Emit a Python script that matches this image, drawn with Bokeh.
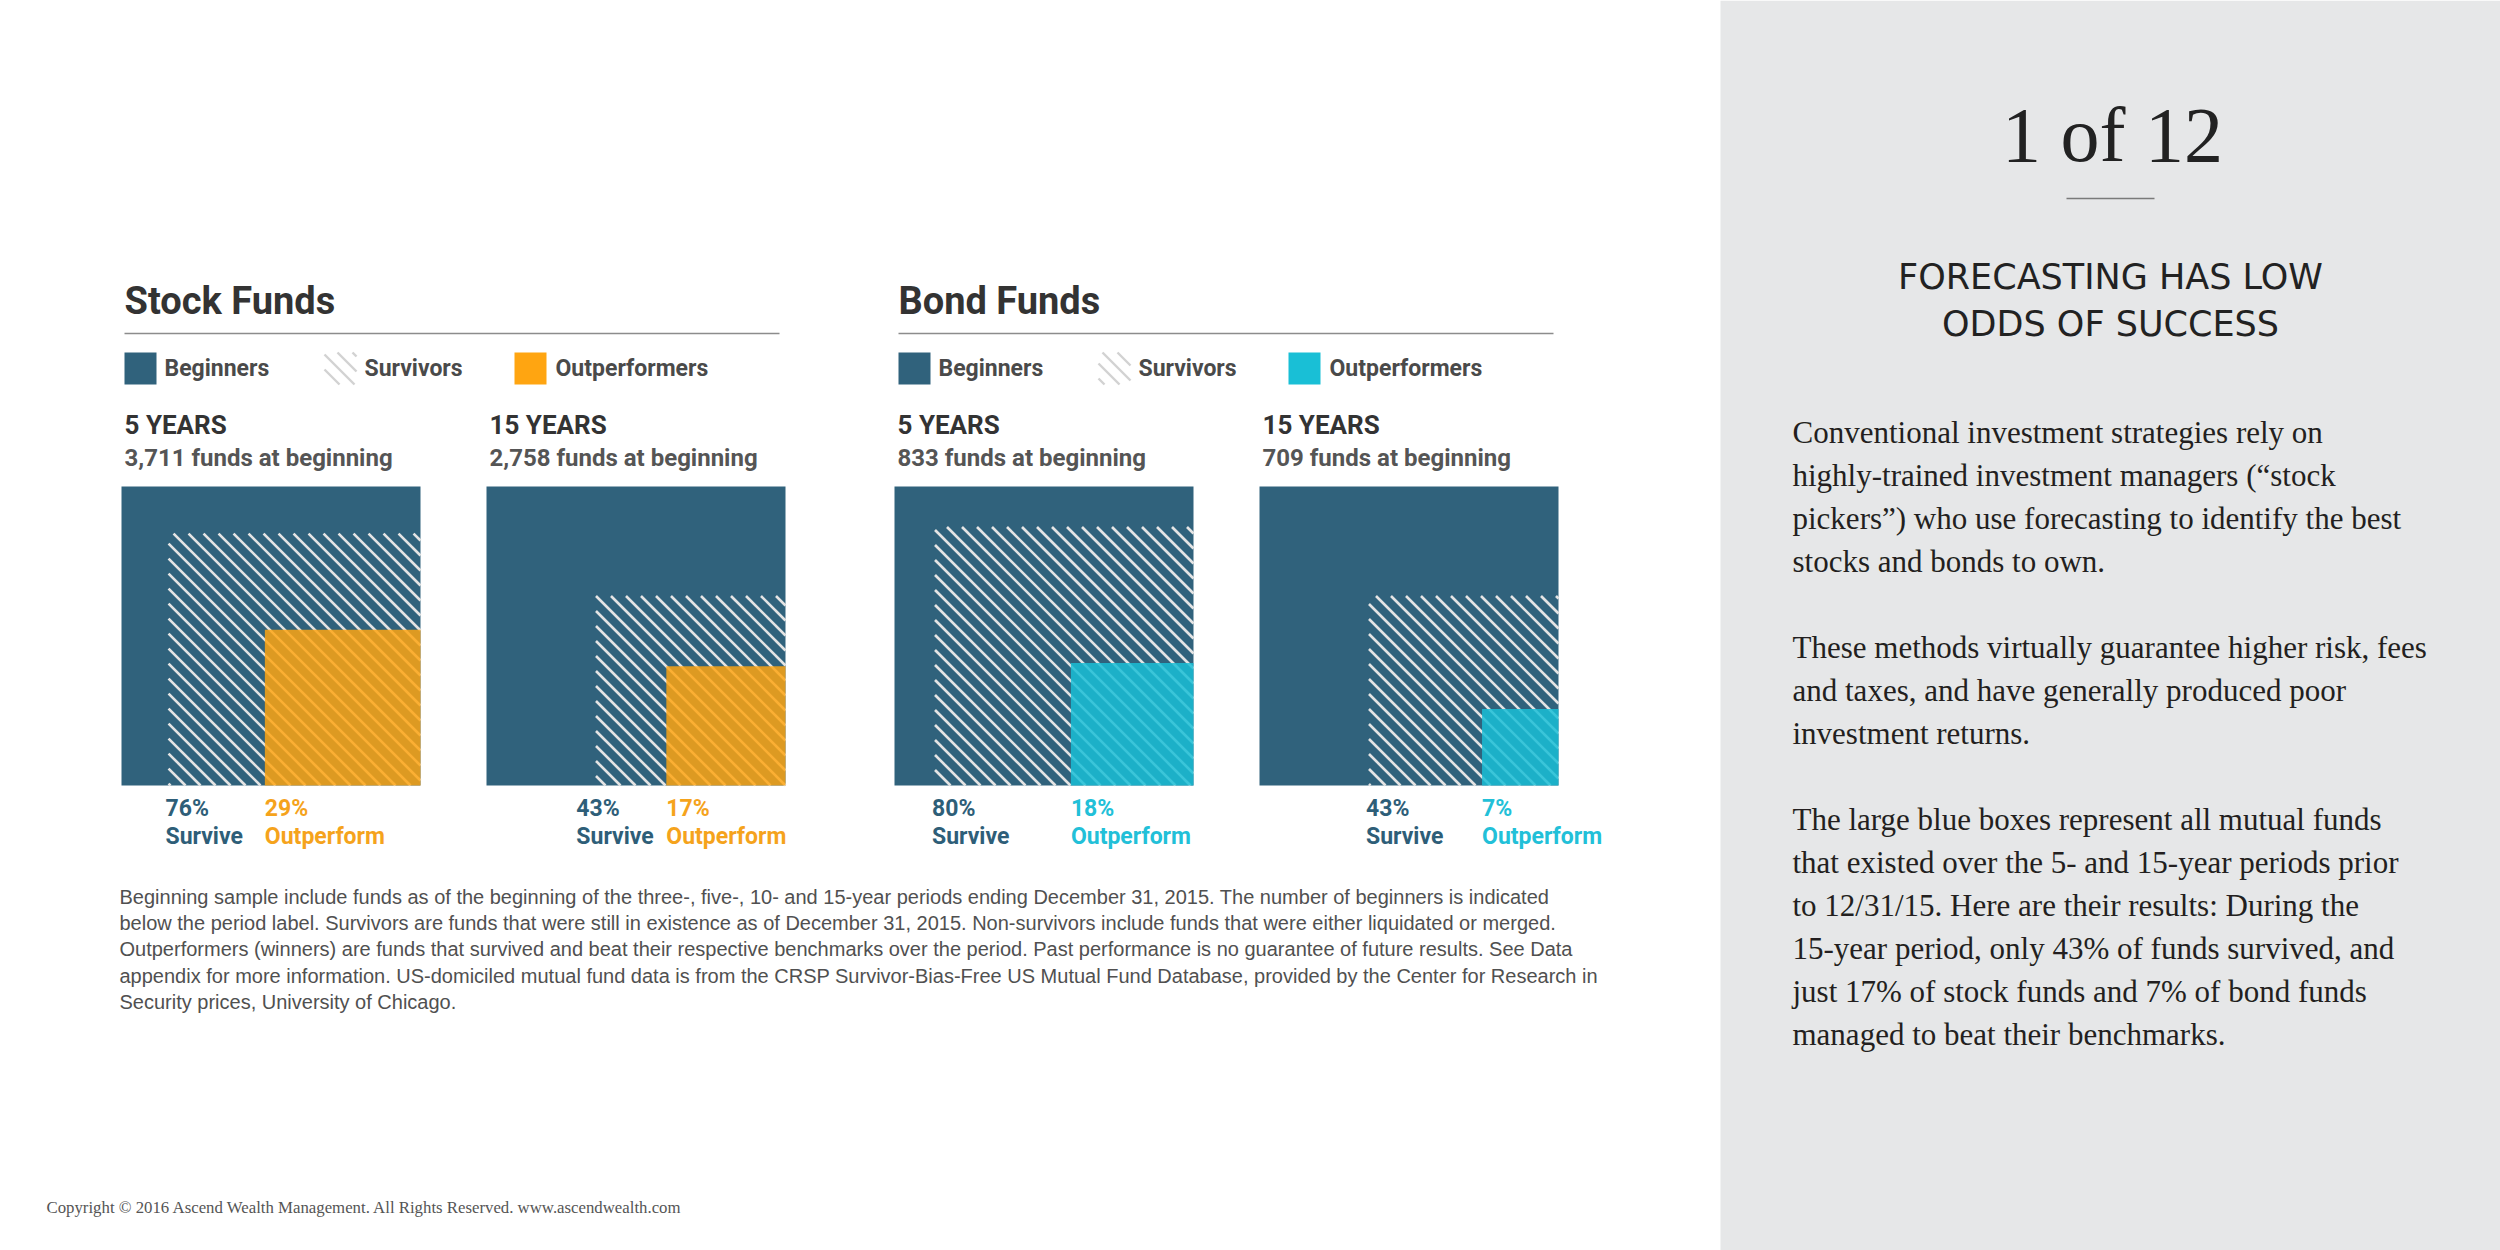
import math
from bokeh.plotting import figure
from bokeh.models import Range1d, ColumnDataSource
from bokeh.core.properties import value
from bokeh.embed import file_html
from bokeh.resources import INLINE

# ---------------- data ----------------
fund_groups = ["Stock Funds", "Bond Funds"]
legend_labels = ["Beginners", "Survivors", "Outperformers"]
periods = ["5 YEARS", "15 YEARS", "5 YEARS", "15 YEARS"]
panel_group = [0, 0, 1, 1]
beginners = [3711, 2758, 833, 709]
survive_pct = [76, 43, 80, 43]
outperform_pct = [29, 17, 18, 7]

footnote_lines = [
    "Beginning sample include funds as of the beginning of the three-,  five-, 10- and 15-year periods ending December 31, 2015. The number of beginners is indicated",
    "below the period label. Survivors are funds that were still in existence as of December 31, 2015. Non-survivors include funds that were either liquidated or merged.",
    "Outperformers (winners) are funds that survived and beat their respective benchmarks over the period. Past performance is no guarantee of future results. See Data",
    "appendix for more information.  US-domiciled mutual fund data is from the CRSP Survivor-Bias-Free US Mutual Fund Database, provided by the Center for Research in",
    "Security prices, University of Chicago.",
]
page_label = "1 of 12"
headline_lines = ["FORECASTING HAS LOW", "ODDS OF SUCCESS"]
paragraphs = [
    ["Conventional investment strategies rely on",
     "highly-trained investment managers (\u201cstock",
     "pickers\u201d) who use forecasting to identify the best",
     "stocks and bonds to own."],
    ["These methods virtually guarantee higher risk, fees",
     "and taxes, and have generally produced poor",
     "investment returns."],
    ["The large blue boxes represent all mutual funds",
     "that existed over the 5- and 15-year periods prior",
     "to 12/31/15. Here are their results: During the",
     "15-year period, only 43% of funds survived, and",
     "just 17% of stock funds and 7% of bond funds",
     "managed to beat their benchmarks."],
]
copyright_text = "Copyright \u00a9 2016 Ascend Wealth Management. All Rights Reserved.  www.ascendwealth.com"

# ---------------- style / layout ----------------
BLUE = "#30627C"
OUT_COLORS = ["#FFA511", "#19BFD6"]
OUT_LABEL = ["#F5A31C", "#22C0D8"]
DIN = value("Roboto")
SANS = value("Liberation Sans")
SERIF = value("Liberation Serif")

W, H = 2500, 1250
p = figure(width=W, height=H, x_range=Range1d(0, W), y_range=Range1d(H, 0),
           output_backend="svg", toolbar_location=None,
           x_axis_location=None, y_axis_location=None,
           min_border=0, outline_line_color=None)
p.xgrid.visible = False
p.ygrid.visible = False
p.background_fill_color = "white"
p.border_fill_color = "white"

# right grey panel
p.quad(left=[1720], right=[W], top=[0], bottom=[H], fill_color="#E6E7E8", line_color=None)

group_left = [124, 898]
box_left = [121, 486, 894, 1259]
box_top, box_size, inner_scale = 486, 299, 289


def txt(x, y, t, size, color, font=DIN, style="bold", align="left"):
    p.text(x=x, y=y, text=t, text_font=font, text_font_size=size, text_font_style=style,
           text_color=color, text_align=align, text_baseline="middle")


def hatch(l, r, t, b, step, color, width):
    """45-degree '\\' stripes clipped to the rectangle [l, r] x [t, b] (y grows downward)."""
    x0, y0, x1, y1 = [], [], [], []
    for k in range(math.ceil((t - r) / step), math.floor((b - l) / step) + 1):
        c = k * step
        xa, xb = max(l, t - c), min(r, b - c)
        if xb - xa > 0.5:
            x0.append(xa); y0.append(xa + c); x1.append(xb); y1.append(xb + c)
    p.segment(x0=x0, y0=y0, x1=x1, y1=y1, line_color=color, line_width=width)


# group titles, rules and legends
for g, name in enumerate(fund_groups):
    gx = group_left[g]
    txt([gx], [300], [name], "38px", "#333333")
    p.segment(x0=[gx], y0=[333], x1=[gx + 655], y1=[333], line_color="#8C8C8C", line_width=1.5)
    p.quad(left=[gx], right=[gx + 32], top=[352], bottom=[384], fill_color=BLUE, line_color=None)
    hatch(gx + 200, gx + 232, 352, 384, 15, "#D2D2D2", 2.4)
    p.quad(left=[gx + 390], right=[gx + 422], top=[352], bottom=[384], fill_color=OUT_COLORS[g], line_color=None)
    lx = [gx + 40, gx + 240, gx + 431]
    txt(lx, [368] * 3, legend_labels, "23px", "#4A4A4A")

# panels
for i in range(4):
    g = panel_group[i]
    L = box_left[i]
    R = L + box_size
    T = box_top
    B = T + box_size
    txt([L + 3], [424], [periods[i]], "26px", "#333333")
    txt([L + 3], [457], [f"{beginners[i]:,} funds at beginning"], "24px", "#555555")
    p.quad(left=[L], right=[R], top=[T], bottom=[B], fill_color=BLUE, line_color=None)
    s_side = math.sqrt(survive_pct[i] / 100) * inner_scale
    o_side = math.sqrt(outperform_pct[i] / 100) * inner_scale
    hatch(R - s_side, R, B - s_side, B, 15, "#E4E4E4", 2.6)
    p.quad(left=[R - o_side], right=[R], top=[B - o_side], bottom=[B], fill_color=OUT_COLORS[g],
           fill_alpha=0.84, line_color=None)
    sx = min(R - s_side - 3, R - o_side - 90)
    ox = R - o_side
    txt([sx, sx], [808, 836], [f"{survive_pct[i]}%", "Survive"], "23px", "#2E5E78")
    txt([ox, ox], [808, 836], [f"{outperform_pct[i]}%", "Outperform"], "23px", OUT_LABEL[g])

# footnote
fn_src = ColumnDataSource(dict(x=[119] * len(footnote_lines),
                               y=[896 + 26.4 * k for k in range(len(footnote_lines))],
                               t=footnote_lines))
p.text(x="x", y="y", text="t", source=fn_src, text_font=SANS, text_font_size="20px",
       text_color="#505050", text_baseline="middle")

# right panel
txt([2112], [134], [page_label], "78px", "#222222", font=SERIF, style="normal", align="center")
p.segment(x0=[2066], y0=[198], x1=[2154], y1=[198], line_color="#7A7A7A", line_width=1.5)
txt([2110, 2110], [276, 323], headline_lines, "35px", "#222222", font=value("DejaVu Sans"),
    style="normal", align="center")

para_starts = [432, 647, 819]
px, py, pt = [], [], []
for k, para in enumerate(paragraphs):
    for j, line in enumerate(para):
        px.append(1792)
        py.append(para_starts[k] + 43 * j)
        pt.append(line)
p.text(x=px, y=py, text=pt, text_font=SERIF, text_font_size="31px", text_color="#231F20",
       text_baseline="middle")

txt([46], [1207], [copyright_text], "16.8px", "#555555", font=SERIF, style="normal")

open("out.html", "w").write(file_html(p, INLINE))
